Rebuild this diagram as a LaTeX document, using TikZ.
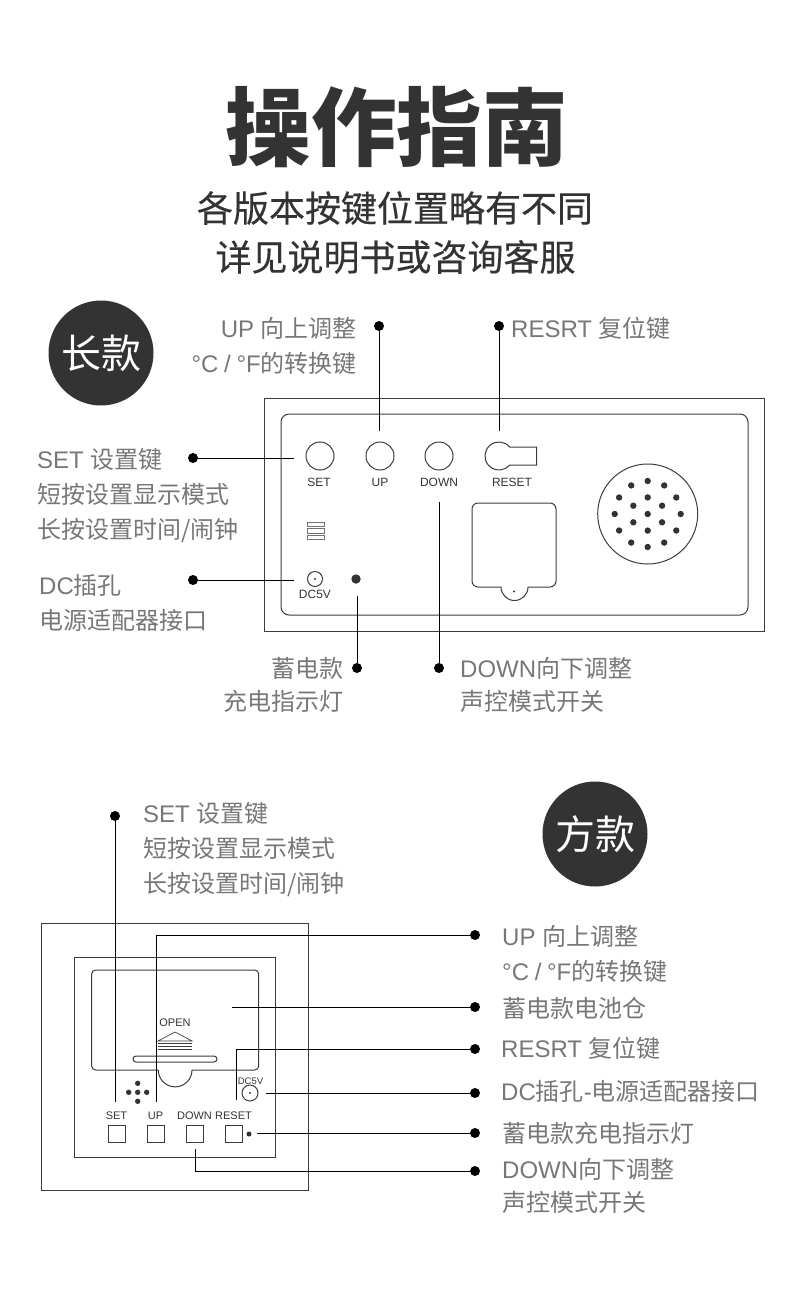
\documentclass[tikz,border=0pt]{standalone}
\usepackage{fontspec}
\usepackage{xcolor}
\usetikzlibrary{positioning, calc}
\newfontfamily\cjk{Noto Sans CJK SC}
\newfontfamily\cjkmed[FakeBold=0.3]{Noto Sans CJK SC}
\newfontfamily\lat{Liberation Sans}
\setsansfont{Liberation Sans}
\definecolor{titlegray}{HTML}{333333}
\definecolor{labgray}{HTML}{777777}
\definecolor{framegray}{HTML}{3C3C3C}
\newcommand{\la}[1]{{\lat #1}}
\newcommand{\unitswitch}{\la{°C\kern-1pt{} / \kern-1pt°F}的转换键}
\tikzset{
  lab/.style={font=\cjk\fontsize{24}{24}\selectfont,text=labgray,inner sep=0pt},
  small/.style={font=\sffamily\fontsize{12}{12}\selectfont,text=black!80,inner sep=0pt},
  smaller/.style={font=\sffamily\fontsize{11}{11}\selectfont,text=black!80,inner sep=0pt},
  leaderdot/.style={circle,fill=black,inner sep=0pt,minimum size=10pt},
  leader/.style={black,line width=0.9pt},
  badge/.style={circle,fill=titlegray,text=white,inner sep=0pt,minimum size=105pt,
    font=\cjk\fontsize{40}{40}\selectfont},
  part/.style={framegray,line width=1pt},
}
\begin{document}
\begin{tikzpicture}[x=1pt,y=-1pt]
  \useasboundingbox (0,0) rectangle (790,1307);

  % Title
  \node[font=\cjk\bfseries\fontsize{85.5}{86}\selectfont,text=titlegray,inner sep=0pt] (title) at (396.5,127) {操作指南};
  \node[font=\cjkmed\fontsize{36}{36}\selectfont,text=titlegray,inner sep=0pt] (subone) at (395,208) {各版本按键位置略有不同};
  \node[font=\cjkmed\fontsize{36}{36}\selectfont,text=titlegray,inner sep=0pt] (subtwo) at (395.5,257) {详见说明书或咨询客服};

  % Long model
  \node[badge] (longbadge) at (101,353) {长款};
  \draw[part] (264.5,398) rectangle (764,631);
  \draw[part,rounded corners=8pt] (281,414) rectangle (748,615);

  % Buttons
  \draw[part] (320,456) circle (14);
  \draw[part] (380,456) circle (14);
  \draw[part] (439,456) circle (14);
  \draw[part] (509.7,447) arc (-40:-320:14) -- (536.5,465) -- (536.5,447) -- cycle;
  \node[small,anchor=base] (setl) at (319,486) {SET};
  \node[small,anchor=base] (upl) at (380,486) {UP};
  \node[small,anchor=base] (downl) at (439,486) {DOWN};
  \node[small,anchor=base] (resetl) at (512,486) {RESET};

  % Slider
  \foreach \y in {522,528.5,535}
    \draw[part,black!55,line width=0.8pt] (307,\y) rectangle (324,\y+4.5);

  % Jack and lamp
  \draw[part] (315,579) circle (7.5);
  \fill[framegray] (315,579) circle (1.1);
  \node[small,anchor=base] (dcl) at (315,598) {DC5V};
  \fill[titlegray] (356,579) circle (4.7);

  % Battery door
  \draw[part,rounded corners=6pt] (501,587) -- (472,587) -- (472,503) -- (556,503) -- (556,587) -- (528,587);
  \draw[part] (501,587) arc (180:0:13.5);
  \fill[framegray] (514,591.5) circle (1.1);

  % Speaker
  \draw[part] (647.7,514) circle (50);
  \fill[titlegray] (647.7,514) circle (3.2);
  \foreach \a in {30,90,...,330}
    \fill[titlegray] (647.7,514) +(\a:16.6) circle (3.2);
  \foreach \a in {0,30,...,330}
    \fill[titlegray] (647.7,514) +(\a:33) circle (3.2);

  % Long model leaders
  \node[leaderdot] (dup) at (379,326) {};
  \node[leaderdot] (dreset) at (499,326) {};
  \node[leaderdot] (dset) at (193,458) {};
  \node[leaderdot] (ddc) at (193,580) {};
  \node[leaderdot] (dlamp) at (357,668) {};
  \node[leaderdot] (ddown) at (439,668) {};
  \coordinate (eup) at (379,431);
  \coordinate (ereset) at (499,431);
  \coordinate (eset) at (294,458);
  \coordinate (edc) at (294,580);
  \coordinate (elamp) at (357,596);
  \coordinate (edown) at (439,502);
  \draw[leader] (dup) -- (eup);
  \draw[leader] (dreset) -- (ereset);
  \draw[leader] (dset) -- (eset);
  \draw[leader] (ddc) -- (edc);
  \draw[leader] (dlamp) -- (elamp);
  \draw[leader] (ddown) -- (edown);

  % Long model labels
  \node[lab,anchor=base east] (tup) at (357,337) {\la{UP }向上调整};
  \node[lab,anchor=base east] (tunit) at (357,372) {\unitswitch};
  \node[lab,anchor=base west] (treset) at (511,337) {\la{RESRT }复位键};
  \node[lab,anchor=base west] (tset) at (37,468) {\la{SET }设置键};
  \node[lab,anchor=base west] (tsetb) at (37,503) {短按设置显示模式};
  \node[lab,anchor=base west] (tsetc) at (37,538) {长按设置时间/闹钟};
  \node[lab,anchor=base west] (tdc) at (39,594) {\la{DC}插孔};
  \node[lab,anchor=base west] (tdcb) at (39,629) {电源适配器接口};
  \node[lab,anchor=base east] (tlamp) at (344,677) {蓄电款};
  \node[lab,anchor=base east] (tlampb) at (344,710) {充电指示灯};
  \node[lab,anchor=base west] (tdown) at (460,677) {\la{DOWN}向下调整};
  \node[lab,anchor=base west] (tdownb) at (460,710) {声控模式开关};

  % Square model
  \node[badge] (squarebadge) at (595,834) {方款};
  \draw[part] (41.7,923.7) rectangle (308,1190);
  \draw[part] (74.7,957) rectangle (275.5,1157);

  % Cover
  \draw[part,rounded corners=4pt] (158.3,1070) -- (91.7,1070) -- (91.7,970) -- (258.7,970) -- (258.7,1070) -- (192,1070);
  \draw[part] (158.3,1070) arc (180:0:16.85);
  \draw[part,rounded corners=3pt] (133,1056) rectangle (217,1062);
  \node[smaller,anchor=base] (openl) at (175,1026) {OPEN};
  \draw[part,line width=0.7pt] (158,1041) -- (175,1032) -- (192,1041) -- cycle;
  \foreach \y in {1043.5,1046.5,1049.5}
    \draw[part,line width=0.8pt] (158,\y) -- (192,\y);

  % Speaker holes
  \foreach \dx/\dy in {0/0,0/-9,0/9,-9/0,9/0}
    \fill[titlegray] (137.7+\dx,1092.3+\dy) circle (2.7);

  % Keys
  \foreach \x/\name in {116.5/SET,155.5/UP,194.5/DOWN,233.5/RESET} {
    \node[smaller,anchor=base] (key\name) at (\x,1119) {\name};
    \draw[part] (\x-8.5,1125) rectangle (\x+8.5,1142);
  }
  \fill[titlegray] (249,1134) circle (2.5);
  \node[small,anchor=base,font=\sffamily\fontsize{9.5}{10}\selectfont] (sqdc) at (250.5,1084) {DC5V};
  \draw[part] (250,1093) circle (8);
  \fill[framegray] (250,1093) circle (1.1);

  % Square model leaders
  \node[leaderdot] (sset) at (115,816) {};
  \node[leaderdot] (sup) at (475,935) {};
  \node[leaderdot] (sbat) at (475,1007) {};
  \node[leaderdot] (sreset) at (475,1049) {};
  \node[leaderdot] (sdc) at (475,1093) {};
  \node[leaderdot] (slamp) at (475,1133) {};
  \node[leaderdot] (sdown) at (475,1171) {};
  \coordinate (fset) at (115,1102);
  \coordinate (fup) at (156,1102);
  \coordinate (fbat) at (232,1007);
  \coordinate (freset) at (236,1100);
  \coordinate (fdc) at (266,1093);
  \coordinate (flamp) at (257,1133);
  \coordinate (fdown) at (195,1149);
  \draw[leader] (sset) -- (fset);
  \draw[leader] (sup) -| (fup);
  \draw[leader] (sbat) -- (fbat);
  \draw[leader] (sreset) -| (freset);
  \draw[leader] (sdc) -- (fdc);
  \draw[leader] (slamp) -- (flamp);
  \draw[leader] (sdown) -| (fdown);

  % Square model labels
  \node[lab,anchor=base west] (uset) at (143,822) {\la{SET }设置键};
  \node[lab,anchor=base west] (usetb) at (143,857) {短按设置显示模式};
  \node[lab,anchor=base west] (usetc) at (143,892) {长按设置时间/闹钟};
  \node[lab,anchor=base west] (uup) at (502,945) {\la{UP }向上调整};
  \node[lab,anchor=base west] (uunit) at (502,980) {\unitswitch};
  \node[lab,anchor=base west] (ubat) at (502,1017) {蓄电款电池仓};
  \node[lab,anchor=base west] (ureset) at (501,1057) {\la{RESRT }复位键};
  \node[lab,anchor=base west] (udc) at (501,1100) {\la{DC}插孔\la{-}电源适配器接口};
  \node[lab,anchor=base west] (ulamp) at (502,1142) {蓄电款充电指示灯};
  \node[lab,anchor=base west] (udown) at (502,1178) {\la{DOWN}向下调整};
  \node[lab,anchor=base west] (udownb) at (502,1211) {声控模式开关};
\end{tikzpicture}
\end{document}
